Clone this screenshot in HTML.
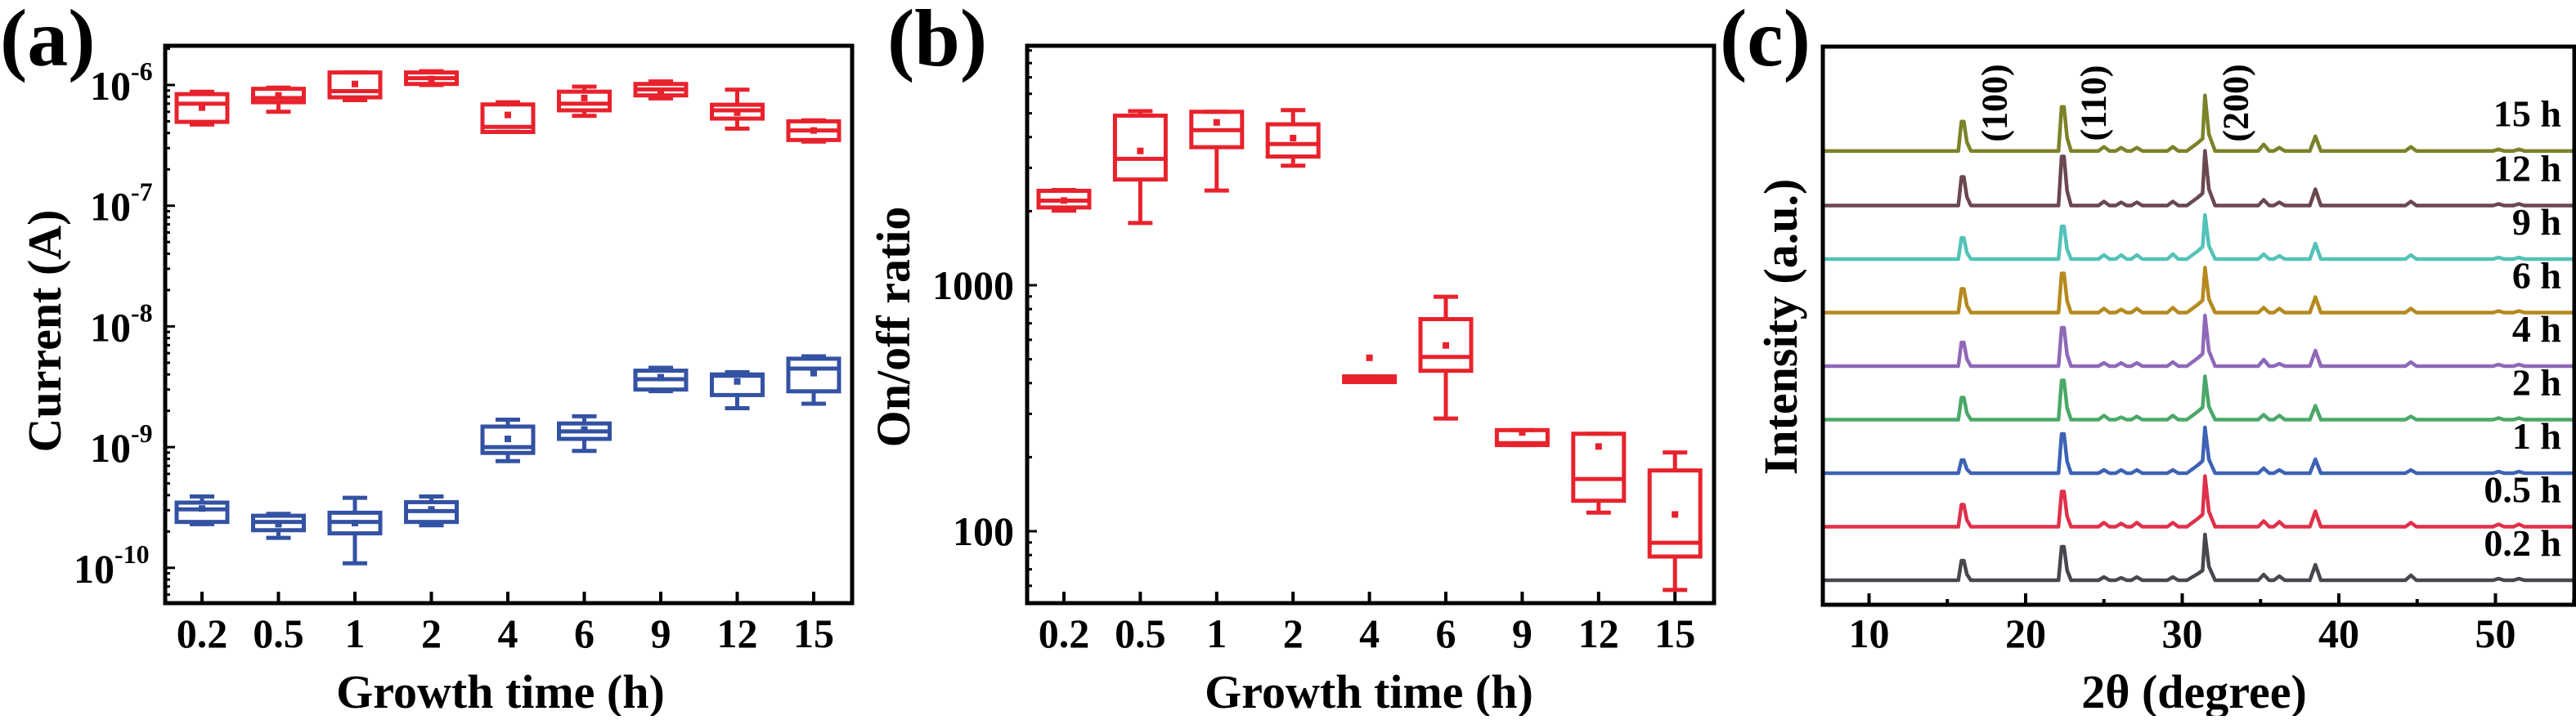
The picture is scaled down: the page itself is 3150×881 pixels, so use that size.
<!DOCTYPE html>
<html><head><meta charset="utf-8"><style>
html,body{margin:0;padding:0;background:#fff;}
svg, svg text{font-family:"Liberation Serif","Times New Roman",serif;font-weight:bold;}
</style></head><body>
<svg id="fig" width="3150" height="876" viewBox="0 0 3150 876" xmlns="http://www.w3.org/2000/svg" font-family="Liberation Serif, serif" font-weight="bold">
<g id="pa"></g>
<g id="pb"></g>
<g id="pc"></g>
</svg>
<script>
// ---- Panel (a) data: current (A) ----
const catsA = ["0.2","0.5","1","2","4","6","9","12","15"];
const onMin  = [4.7e-7,6.0e-7,7.5e-7,1.0e-6,4.1e-7,5.55e-7,7.75e-7,4.35e-7,3.4e-7];
const onQ1   = [4.95e-7,7.2e-7,7.9e-7,1.02e-6,4.08e-7,6.17e-7,8.2e-7,5.27e-7,3.5e-7];
const onMed  = [7.0e-7,7.8e-7,8.9e-7,1.14e-6,4.5e-7,7.0e-7,9.2e-7,6.17e-7,4.2e-7];
const onQ3   = [8.4e-7,9.3e-7,1.27e-6,1.27e-6,6.9e-7,8.8e-7,1.02e-6,6.86e-7,5.0e-7];
const onMax  = [8.8e-7,9.5e-7,1.27e-6,1.3e-6,7.2e-7,9.7e-7,1.07e-6,9.15e-7,5.1e-7];
const onMean = [6.5e-7,8.2e-7,1.02e-6,1.12e-6,5.65e-7,7.8e-7,8.9e-7,5.9e-7,4.2e-7];
const offMin  = [2.3e-10,1.77e-10,1.09e-10,2.25e-10,7.65e-10,9.3e-10,2.91e-9,2.1e-9,2.29e-9];
const offQ1   = [2.4e-10,2.05e-10,1.93e-10,2.4e-10,8.95e-10,1.17e-9,3.0e-9,2.7e-9,2.9e-9];
const offMed  = [3.05e-10,2.4e-10,2.4e-10,2.95e-10,1.0e-9,1.35e-9,3.65e-9,3.9e-9,4.47e-9];
const offQ3   = [3.47e-10,2.7e-10,2.86e-10,3.5e-10,1.48e-9,1.57e-9,4.3e-9,4.0e-9,5.4e-9];
const offMax  = [3.9e-10,2.8e-10,3.8e-10,3.9e-10,1.69e-9,1.8e-9,4.54e-9,4.18e-9,5.65e-9];
const offMean = [3.1e-10,2.3e-10,2.35e-10,3.05e-10,1.17e-9,1.4e-9,3.8e-9,3.5e-9,4.1e-9];
const tickExpA = [-6,-7,-8,-9,-10];
// ---- Panel (b) data: on/off ratio ----
const rMin  = [2010,1790,2427,3060,404,287,224,119,57.7];
const rQ1   = [2070,2690,3640,3335,404,449,224,133,78.9];
const rMed  = [2208,3265,4270,3750,418,511,228,163,89.8];
const rQ3   = [2420,4890,5070,4510,426,728,257.6,249,176.6];
const rMax  = [2438,5100,5070,5150,426,898,257.6,249,209];
const rMean = [2210,3515,4590,3965,507,569,252,221,117];
const tickB = [100,1000];
// ---- Panel (c) data: XRD ----
const seriesC = ["0.2 h","0.5 h","1 h","2 h","4 h","6 h","9 h","12 h","15 h"];
const colorsC = ["#47474d","#e0304a","#3d62b5","#4aa868","#8f68b8","#b5891e","#52c3b8","#6b4750","#7b8228"];
const offsetC = [0,1,2,3,4,5,6,7,8.02];
const peakPos = [16.0,22.4,25.0,26.1,27.1,29.4,31.0,31.5,35.2,36.2,38.5,44.6,50.2,51.5];
const peakH = [
 [24,41,4,3,4,4,8,56,7,5,19,6,2,2],
 [27,43,5,4,5,5,10,62,7,6,19,5,3,3],
 [16,48,4,4,4,4,10,56,6,4,17,4,2,2],
 [27,48,5,3,4,5,10,53,6,5,17,4,2,2],
 [29,47,4,4,4,5,10,62,8,3,19,5,2,2],
 [29,48,5,4,5,6,10,55,6,5,19,5,2,2],
 [26,40,5,5,5,6,10,54,6,4,19,5,2,2],
 [35,60,5,4,4,5,10,67,7,4,20,5,2,2],
 [36,54,5,4,4,5,10,68,8,4,18,5,2,2]
];
const ticksC = [10,20,30,40,50];
const hkl = [["(100)",18.0],["(110)",24.3],["(200)",33.4]];

const NS="http://www.w3.org/2000/svg";
function mk(p,tag,at,name,txt){const e=document.createElementNS(NS,tag);for(const k in at)e.setAttribute(k,at[k]);
 
 
 if(tag==='text'){e.setAttribute('font-family','Liberation Serif, serif');e.setAttribute('font-weight','bold');}
 if(txt!==undefined)e.textContent=txt;p.appendChild(e);return e;}

// ---------- Panel A ----------
(function(){
 const g=document.getElementById('pa');
 const L=202,R=1042,T=56,B=738;
 const yA=v=>104+(-6-Math.log10(v))*147.7;
 const xA=i=>247+i*93.5;
 mk(g,'text',{x:0,y:80,'font-size':100},'panel-label-a','(a)');
 mk(g,'rect',{x:L,y:T,width:R-L,height:B-T,fill:'none',stroke:'#000','stroke-width':5},'plot-frame-a');
 for(let e=-11;e<=-5;e++){for(let m=1;m<10;m++){const v=m*Math.pow(10,e);const y=yA(v);if(y<T||y>B)continue;
  mk(g,'line',{x1:L,x2:L+(m===1?12:6),y1:y,y2:y,stroke:'#000','stroke-width':3},m===1?'y-major-tick':'y-minor-tick');}}
 tickExpA.forEach(e=>{const y=yA(Math.pow(10,e));const t=mk(g,'text',{x:e<=-10?90:110,y:y+18,'font-size':50},'y-tick-label');
  t.textContent='10';const s=document.createElementNS(NS,'tspan');s.setAttribute('dy','-24');s.setAttribute('font-size','32');s.textContent=String(e);
  
  
  t.appendChild(s);});
 catsA.forEach((c,i)=>{mk(g,'line',{x1:xA(i),x2:xA(i),y1:B,y2:B-14,stroke:'#000','stroke-width':4},'x-tick');
  mk(g,'text',{x:xA(i),y:792,'text-anchor':'middle','font-size':50},'x-tick-label',c);});
 mk(g,'text',{x:612,y:866,'text-anchor':'middle','font-size':58},'x-axis-title','Growth time (h)');
 mk(g,'text',{x:0,y:0,'text-anchor':'middle','font-size':58,transform:'translate(74,405) rotate(-90)'},'y-axis-title','Current (A)');
 function boxes(mn,q1,md,q3,mx,mean,col,nm){
  catsA.forEach((c,i)=>{const x=xA(i),w=31,cw=15;const gg=mk(g,'g',{stroke:col,'stroke-width':5,fill:'none'},nm+'-box-'+c);
   mk(gg,'line',{x1:x,x2:x,y1:yA(mx[i]),y2:yA(q3[i])},'whisker-upper');
   mk(gg,'line',{x1:x,x2:x,y1:yA(q1[i]),y2:yA(mn[i])},'whisker-lower');
   mk(gg,'line',{x1:x-cw,x2:x+cw,y1:yA(mx[i]),y2:yA(mx[i])},'cap-upper');
   mk(gg,'line',{x1:x-cw,x2:x+cw,y1:yA(mn[i]),y2:yA(mn[i])},'cap-lower');
   mk(gg,'rect',{x:x-w,y:yA(q3[i]),width:2*w,height:Math.max(1,yA(q1[i])-yA(q3[i]))},'iqr-box');
   mk(gg,'line',{x1:x-w,x2:x+w,y1:yA(md[i]),y2:yA(md[i])},'median-line');
   mk(gg,'rect',{x:x-4,y:yA(mean[i])-4,width:8,height:8,fill:col,stroke:'none'},'mean-marker');
  });}
 boxes(onMin,onQ1,onMed,onQ3,onMax,onMean,'#e8222c','on-current');
 boxes(offMin,offQ1,offMed,offQ3,offMax,offMean,'#3352a3','off-current');
})();

// ---------- Panel B ----------
(function(){
 const g=document.getElementById('pb');
 const L=1256,R=2096,T=56,B=738;
 const yB=v=>349+(3-Math.log10(v))*301;
 const xB=i=>1301+i*93.4;
 mk(g,'text',{x:1085,y:80,'font-size':100},'panel-label-b','(b)');
 mk(g,'rect',{x:L,y:T,width:R-L,height:B-T,fill:'none',stroke:'#000','stroke-width':5},'plot-frame-b');
 for(let e=1;e<=4;e++){for(let m=1;m<10;m++){const v=m*Math.pow(10,e);const y=yB(v);if(y<T+3||y>B-3)continue;
  mk(g,'line',{x1:L,x2:L+(m===1?12:6),y1:y,y2:y,stroke:'#000','stroke-width':3},m===1?'y-major-tick':'y-minor-tick');}}
 tickB.forEach(v=>mk(g,'text',{x:1240,y:yB(v)+17,'text-anchor':'end','font-size':50},'y-tick-label',String(v)));
 catsA.forEach((c,i)=>{mk(g,'line',{x1:xB(i),x2:xB(i),y1:B,y2:B-14,stroke:'#000','stroke-width':4},'x-tick');
  mk(g,'text',{x:xB(i),y:792,'text-anchor':'middle','font-size':50},'x-tick-label',c);});
 mk(g,'text',{x:1674,y:866,'text-anchor':'middle','font-size':58},'x-axis-title','Growth time (h)');
 mk(g,'text',{x:0,y:0,'text-anchor':'middle','font-size':58,transform:'translate(1112,400) rotate(-90)'},'y-axis-title','On/off ratio');
 const col='#e8222c';
 catsA.forEach((c,i)=>{const x=xB(i),w=31,cw=15;const gg=mk(g,'g',{stroke:col,'stroke-width':5,fill:'none'},'ratio-box-'+c);
   mk(gg,'line',{x1:x,x2:x,y1:yB(rMax[i]),y2:yB(rQ3[i])},'whisker-upper');
   mk(gg,'line',{x1:x,x2:x,y1:yB(rQ1[i]),y2:yB(rMin[i])},'whisker-lower');
   mk(gg,'line',{x1:x-cw,x2:x+cw,y1:yB(rMax[i]),y2:yB(rMax[i])},'cap-upper');
   mk(gg,'line',{x1:x-cw,x2:x+cw,y1:yB(rMin[i]),y2:yB(rMin[i])},'cap-lower');
   mk(gg,'rect',{x:x-w,y:yB(rQ3[i]),width:2*w,height:Math.max(1,yB(rQ1[i])-yB(rQ3[i]))},'iqr-box');
   mk(gg,'line',{x1:x-w,x2:x+w,y1:yB(rMed[i]),y2:yB(rMed[i])},'median-line');
   mk(gg,'rect',{x:x-4,y:yB(rMean[i])-4,width:8,height:8,fill:col,stroke:'none'},'mean-marker');
 });
})();

// ---------- Panel C ----------
(function(){
 const g=document.getElementById('pc');
 const L=2229,R=3148,T=57,B=740;
 const xC=v=>2285.5+(v-10)*19.15;
 const base0=710, step=65.5;
 mk(g,'text',{x:2103,y:80,'font-size':100},'panel-label-c','(c)');
 seriesC.forEach((s,k)=>{
  const yb=base0-offsetC[k]*step;const h=peakH[k];
  const pts=[[7.1,0]];
  peakPos.forEach((p,j)=>{
   if(p===31.0){pts.push([30.3,0],[31.0,h[j]],[31.3,h[j]*1.5]);return;}
   if(p===31.5){pts.push([31.45,h[j]],[31.7,h[j]*0.3],[32.1,0]);return;}
   if(p===16.0||p===22.4){pts.push([p-0.3,0],[p-0.1,h[j]],[p+0.05,h[j]],[p+0.25,h[j]*0.3],[p+0.5,0]);return;}
   pts.push([p-0.35,0],[p,h[j]],[p+0.35,0]);});
  pts.push([55,0]);
  const d=pts.map((q,n)=>(n?'L':'M')+xC(q[0]).toFixed(1)+' '+(yb-q[1]).toFixed(1)).join(' ');
  mk(g,'path',{d:d,fill:'none',stroke:colorsC[k],'stroke-width':4.5,'stroke-linejoin':'round'},'xrd-pattern-'+s.replace(/[ .]/g,''));
  mk(g,'text',{x:3132,y:yb-30,'text-anchor':'end','font-size':46},'series-label-'+s.replace(/[ .]/g,''),s);
 });
 mk(g,'rect',{x:L,y:T,width:R-L,height:B-T,fill:'none',stroke:'#000','stroke-width':5},'plot-frame-c');
 for(let v=10;v<=55;v+=5){const maj=v%10===0;
  mk(g,'line',{x1:xC(v),x2:xC(v),y1:B,y2:B-(maj?14:7),stroke:'#000','stroke-width':4},maj?'x-major-tick':'x-minor-tick');}
 ticksC.forEach(v=>mk(g,'text',{x:xC(v),y:792,'text-anchor':'middle','font-size':50},'x-tick-label',String(v)));
 hkl.forEach(h=>mk(g,'text',{x:0,y:0,'text-anchor':'middle','font-size':44,transform:'translate('+(xC(h[1])+15)+',126) rotate(-90)'},'hkl-label',h[0]));
 mk(g,'text',{x:2683,y:866,'text-anchor':'middle','font-size':58},'x-axis-title','2θ (degree)');
 mk(g,'text',{x:0,y:0,'text-anchor':'middle','font-size':58,transform:'translate(2197,400) rotate(-90)'},'y-axis-title','Intensity (a.u.)');
})();
</script>
</body></html>
